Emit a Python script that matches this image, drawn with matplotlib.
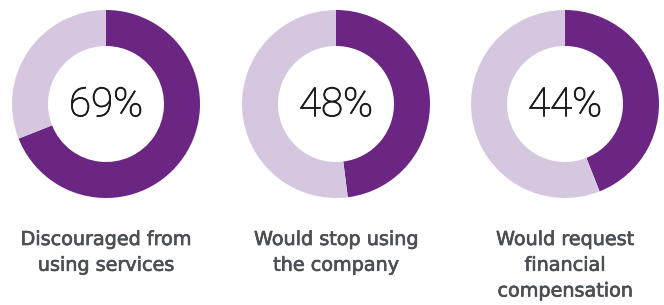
import matplotlib
matplotlib.use("Agg")
import matplotlib.pyplot as plt
import matplotlib.patheffects as pe

# datos de cada anillo
values = [69, 48, 44]
labels = ["Discouraged from\nusing services",
          "Would stop using\nthe company",
          "Would request\nfinancial\ncompensation"]

dark = "#6b2583"
light = "#d6c7e0"
text_col = "#4b5057"

W, H = 664, 305
fig = plt.figure(figsize=(W / 100, H / 100), dpi=100)
ax = fig.add_axes([0, 0, 1, 1])

centers_x = [106, 336, 565]
cy = H - 104

for cx, v, lab in zip(centers_x, values, labels):
    ax.pie([v, 100 - v], colors=[dark, light], startangle=90, counterclock=False,
           center=(cx, cy), radius=94, wedgeprops=dict(width=36, linewidth=0),
           frame=True)
    ax.text(cx, cy - 1, f"{v}%", ha="center", va="center", fontsize=29,
            family="Roboto", fontweight="light", color="#1a1a1a",
            path_effects=[pe.withStroke(linewidth=0.6, foreground="#1a1a1a")])
    ax.text(cx, H - 230, lab, ha="center", va="top", fontsize=13.8,
            family="DejaVu Sans", color=text_col, linespacing=1.45,
            path_effects=[pe.withStroke(linewidth=0.5, foreground=text_col)])

ax.set_xlim(0, W)
ax.set_ylim(0, H)
ax.set_aspect("equal")
ax.set_axis_off()

plt.savefig("out.png", dpi=100)
plt.close()
